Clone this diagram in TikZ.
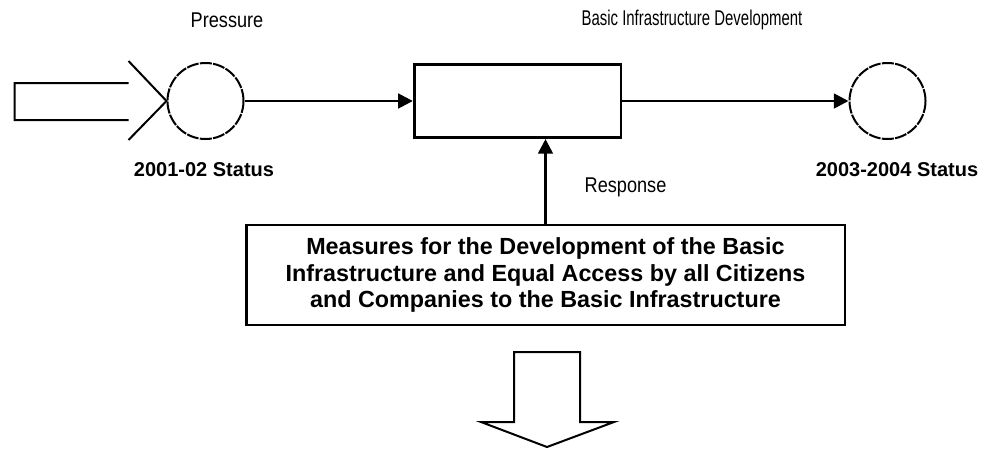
\documentclass[tikz,border=0pt]{standalone}
\usepackage{fontspec}
\setmainfont{Liberation Sans}
\newfontfamily\narrowsans[FakeStretch=0.85]{Liberation Sans}
\newfontfamily\tightsans[FakeStretch=0.7]{Liberation Sans}
\usetikzlibrary{arrows.meta, calc, positioning}

\tikzset{
    flow/.style={line width=2pt, -{Triangle[length=11pt, width=11pt]}},
    statecirc/.style={circle, draw, line width=1.5pt, dash pattern=on 9pt off 1pt, minimum size=57pt, inner sep=0pt},
    corebox/.style={rectangle, draw, line width=2pt, minimum width=155pt, minimum height=55pt},
    respbox/.style={rectangle, draw, line width=2pt, minimum width=449pt, minimum height=75pt, align=center, font=\fontsize{17.5}{20}\selectfont\bfseries},
    plainlbl/.style={font=\narrowsans\fontsize{16}{18}\selectfont},
    statuslbl/.style={font=\fontsize{15}{17}\selectfont\bfseries}
}

\begin{document}
\begin{tikzpicture}[x=0.75pt, y=-0.75pt]
                        \useasboundingbox (0, 0) rectangle (987, 450);

                        \node[statecirc] (prev) at (205.5, 101) {};
                        \node[corebox] (core) at (517.5, 101) {};
                        \node[statecirc] (next) at (887.5, 101) {};
                        \node[respbox] (resp) at (545.5, 275) {Measures for the Development of the Basic\\ Infrastructure and Equal Access by all Citizens\\ and Companies to the Basic Infrastructure};

                        \draw[line width=1.5pt]
                        ($(prev.west) + (-38, -40)$) -- (prev.west) -- ($(prev.west) + (-38, 39)$)
                        ($(prev.west) + (-38, -18)$) -- ($(prev.west) + (-152, -18)$) -- ($(prev.west) + (-152, 19)$) -- ($(prev.west) + (-38, 19)$);

                        \draw[line width=1.5pt]
                        (514, 352) -- (580, 352) -- (580, 422) -- (614, 422) -- (547, 447) -- (481, 422) -- (514, 422) -- cycle;

                        \draw[flow] (prev.east) -- (core.west);
                        \draw[flow] (core.east) -- (next.west);
                        \draw[flow] (resp.north) -- (resp.north |- core.south);

                        \node[plainlbl] (pressure) at (227, 20) {Pressure};
                        \node[font=\tightsans\fontsize{16}{18}\selectfont] (devel) at (692, 20) {Basic Infrastructure Development};
                        \node[plainlbl, anchor=west] (response) at (580, 187) {Response};
                        \node[statuslbl] (stat0) at (204, 170) {2001-02 Status};
                        \node[statuslbl] (stat1) at (897, 170) {2003-2004 Status};
                    \end{tikzpicture}
\end{document}
